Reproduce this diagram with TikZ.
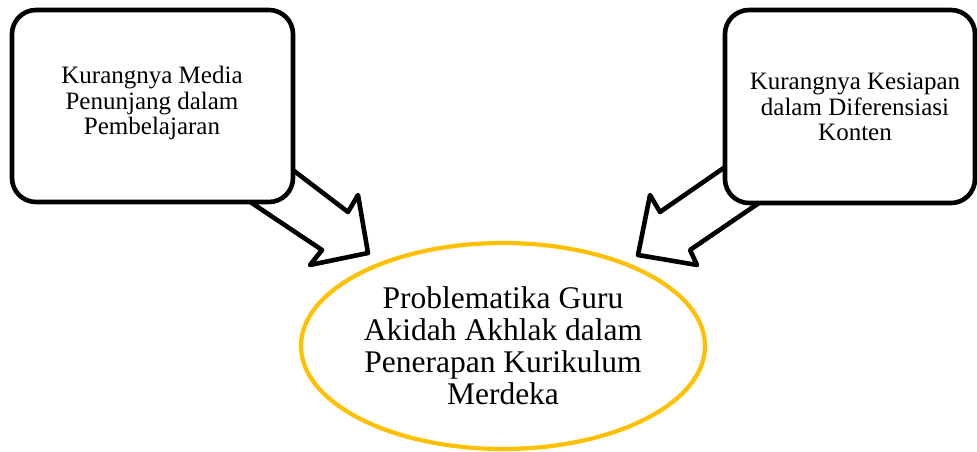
\documentclass[tikz,border=0pt]{standalone}
\usepackage{fontspec}
\setmainfont{Liberation Serif}
\definecolor{gold}{HTML}{FFC000}
\tikzset{
  boxstyle/.style={draw=black, line width=4.6pt, rounded corners=24pt, fill=white, inner sep=0pt},
  blockarrow/.style={draw=black, line width=4.6pt, fill=white, line join=round},
  smalltext/.style={align=center, font=\fontsize{25pt}{25.5pt}\selectfont, inner sep=0pt},
  bigtext/.style={align=center, font=\fontsize{31.5pt}{32pt}\selectfont, inner sep=0pt},
  goldellipse/.style={draw=gold, line width=4.2pt, fill=white, ellipse, minimum width=404pt, minimum height=206pt, inner sep=0pt}
}
\usetikzlibrary{shapes.geometric}
\begin{document}
\begin{tikzpicture}[x=1pt,y=-1pt]
\useasboundingbox (0,0) rectangle (977,452);
% arrows (behind boxes)
\coordinate (la1) at (260,145);
\coordinate (la2) at (348,212);
\coordinate (la3) at (358,195);
\coordinate (la4) at (368,253);
\coordinate (la5) at (310,265);
\coordinate (la6) at (322,250);
\coordinate (la7) at (210,175);
\draw[blockarrow] (la1) -- (la2) -- (la3) -- (la4) -- (la5) -- (la6) -- (la7) -- cycle;
\coordinate (ra1) at (780,129);
\coordinate (ra2) at (660,212);
\coordinate (ra3) at (650,195);
\coordinate (ra4) at (638,255);
\coordinate (ra5) at (697,265);
\coordinate (ra6) at (690,250);
\coordinate (ra7) at (800,175);
\draw[blockarrow] (ra1) -- (ra2) -- (ra3) -- (ra4) -- (ra5) -- (ra6) -- (ra7) -- cycle;
% boxes
\node[boxstyle, minimum width=281pt, minimum height=192pt] (lbox) at (152.5,106) {};
\node[smalltext] (ltext) at (152,103) {Kurangnya Media\\Penunjang dalam\\Pembelajaran};
\node[boxstyle, minimum width=250pt, minimum height=193pt] (rbox) at (850,106.5) {};
\node[smalltext] (rtext) at (855,107) {Kurangnya Kesiapan\\dalam Diferensiasi\\Konten};
% ellipse
\node[goldellipse] (ell) at (503,346) {};
\node[bigtext] (etext) at (503,346) {Problematika Guru\\Akidah Akhlak dalam\\Penerapan Kurikulum\\Merdeka};
\end{tikzpicture}
\end{document}
